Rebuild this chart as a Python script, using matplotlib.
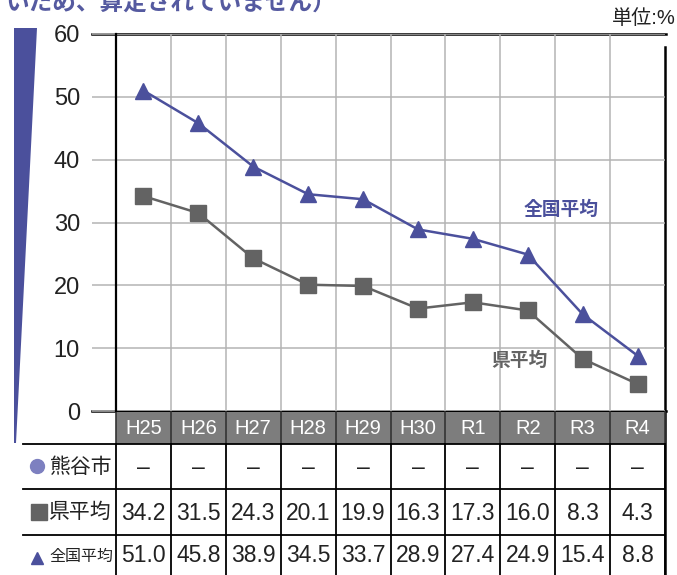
import matplotlib
matplotlib.use('Agg')
import matplotlib.pyplot as plt
from matplotlib.patches import Polygon, Rectangle
from matplotlib.transforms import blended_transform_factory

plt.rcParams['font.family'] = ['Liberation Sans', 'Noto Sans CJK JP', 'DejaVu Sans']

years = ['H25', 'H26', 'H27', 'H28', 'H29', 'H30', 'R1', 'R2', 'R3', 'R4']
ken = [34.2, 31.5, 24.3, 20.1, 19.9, 16.3, 17.3, 16.0, 8.3, 4.3]
zenkoku = [51.0, 45.8, 38.9, 34.5, 33.7, 28.9, 27.4, 24.9, 15.4, 8.8]
kumagaya = ['–'] * len(years)
yticks = [0, 10, 20, 30, 40, 50, 60]

blue = '#4b509c'
gray = '#636363'
W, H = 677, 575

fig = plt.figure(figsize=(W / 100, H / 100), dpi=100)

# overlay in pixel coords for table / decorations
ov = fig.add_axes([0, 0, 1, 1], zorder=0)
ov.set_xlim(0, W)
ov.set_ylim(H, 0)
ov.axis('off')

x0, x1, ytop, ybot = 116, 665, 34, 411
ax = fig.add_axes([x0 / W, 1 - ybot / H, (x1 - x0) / W, (ybot - ytop) / H], zorder=1)
ax.patch.set_alpha(0)
xs = list(range(len(years)))

ax.plot(xs, zenkoku, color=blue, lw=1.8, marker='^', ms=11, zorder=4, clip_on=False)
ax.plot(xs, ken, color=gray, lw=1.8, marker='s', ms=11, zorder=4, clip_on=False)

ax.set_xlim(-0.5, len(years) - 0.5)
ax.set_ylim(0, 60)
ax.set_yticks(yticks)
ax.set_yticklabels([str(v) for v in yticks], fontsize=17)
ax.set_xticks([i + 0.5 for i in range(len(years) - 1)])
ax.set_xticklabels([])
ax.tick_params(axis='y', length=17, width=1.1, color='#b4b4b4', pad=9, labelcolor='#222222')
ax.tick_params(axis='x', length=0)
ax.grid(True, color='#b4b4b4', lw=1.1, zorder=1)
for s in ['top', 'bottom', 'right']:
    ax.spines[s].set_visible(False)
ax.spines['left'].set_linewidth(1.6)
ax.spines['left'].set_color('black')

ax.text(7.6, 32, '全国平均', color=blue, fontsize=13.5, fontweight='bold', ha='center', va='center')
ax.text(6.85, 8.0, '県平均', color=gray, fontsize=13.5, fontweight='bold', ha='center', va='center')

# axis frame lines
ov.plot([92, 666], [ytop, ytop], color='black', lw=1.8)
ov.plot([92, 666], [ybot, ybot], color='black', lw=1.8)
ov.plot([665, 665], [47, H], color='black', lw=1.8)

# blue wedge
ov.add_patch(Polygon([(14, 28), (37, 28), (16, 443), (14, 443)], closed=True, color=blue, lw=0))

# top texts
ov.text(6, 3, 'いため、算定されていません）', color='#555aa0', fontsize=17, fontweight='bold',
        ha='left', va='center')
ov.text(676, 19, '単位:%', color='#222222', fontsize=14.5, ha='right', va='center')

# table
tr = blended_transform_factory(ax.transData, ov.transData)
hdr_top, hdr_bot = 412, 444
rows = [(444, 489), (489, 535), (535, 575)]
ov.add_patch(Rectangle((-0.5, hdr_top), len(years), hdr_bot - hdr_top, transform=tr,
                       facecolor='#7d7d7d', edgecolor='none', zorder=2))
for i, y in enumerate(years):
    ov.text(i, (hdr_top + hdr_bot) / 2 + 1, y, transform=tr, color='white', fontsize=14.5,
            ha='center', va='center', zorder=3)
for i in range(len(years) + 1):
    ov.plot([i - 0.5, i - 0.5], [hdr_top, hdr_bot], transform=tr, color='#333333', lw=1.2, zorder=3)
    ov.plot([i - 0.5, i - 0.5], [hdr_bot, H], transform=tr, color='black', lw=1.3, zorder=3)
for (a, b) in rows:
    ov.plot([23, 665], [a, a], color='black', lw=1.3, zorder=3)

row_vals = [kumagaya, [f'{v:.1f}' for v in ken], [f'{v:.1f}' for v in zenkoku]]
for (a, b), vals in zip(rows, row_vals):
    yc = (a + b) / 2 + 1
    for i, v in enumerate(vals):
        ov.text(i, yc, v, transform=tr, fontsize=16.5, color='#222222', ha='center', va='center')

# row labels
ov.plot([37], [466], marker='o', ms=10, color='#7d80c0', ls='none')
ov.text(49, 467, '熊谷市', fontsize=15, color='#222222', ha='left', va='center')
ov.plot([39], [512], marker='s', ms=11, color=gray, ls='none')
ov.text(49, 512, '県平均', fontsize=15, color='#222222', ha='left', va='center')
ov.plot([37], [558], marker='^', ms=9, color=blue, ls='none')
ov.text(49, 556, '全国平均', fontsize=11.5, color='#222222', ha='left', va='center')

fig.savefig('out.png', dpi=100)
